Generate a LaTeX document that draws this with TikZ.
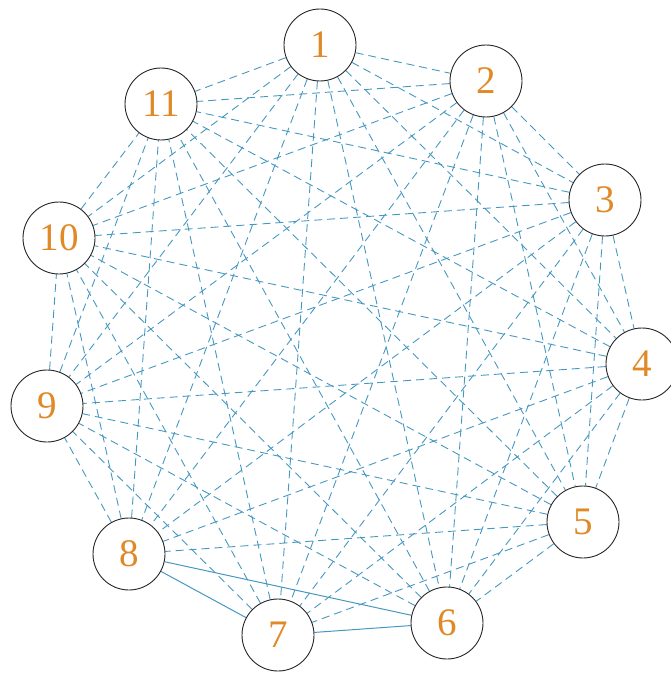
\documentclass[tikz,border=0pt]{standalone}
\usepackage{fontspec}
\setmainfont{Liberation Serif}
\usetikzlibrary{backgrounds}
\definecolor{edgeblue}{RGB}{70,152,192}
\definecolor{numorange}{RGB}{224,137,38}
\tikzset{
  vtx/.style={circle,draw=black!85,line width=0.9pt,fill=white,minimum size=72pt,inner sep=0pt,
    text=numorange,font=\fontsize{39}{39}\selectfont},
  dedge/.style={draw=edgeblue,line width=0.9pt,dash pattern=on 8pt off 5pt},
  sedge/.style={draw=edgeblue,line width=1pt}
}
\begin{document}
\begin{tikzpicture}[x=1pt,y=-1pt]
\useasboundingbox (0,0) rectangle (670,677);
\node[vtx] (n1) at (320,45) {1};
\node[vtx] (n2) at (486,81) {2};
\node[vtx] (n3) at (605,200) {3};
\node[vtx] (n4) at (642,364) {4};
\node[vtx] (n5) at (583,522) {5};
\node[vtx] (n6) at (447,623) {6};
\node[vtx] (n7) at (278,635) {7};
\node[vtx] (n8) at (129,554) {8};
\node[vtx] (n9) at (47,406) {9};
\node[vtx] (n10) at (59,238) {10};
\node[vtx] (n11) at (161,104) {11};
\begin{scope}[on background layer]
\foreach \i in {1,...,11}{
  \foreach \j in {1,...,11}{
    \ifnum\i<\j
      \pgfmathtruncatemacro{\s}{(\i>5)*(\i<9)*(\j>5)*(\j<9)}
      \ifnum\s=0
        \draw[dedge] (n\i) -- (n\j);
      \fi
    \fi
  }
}
\draw[sedge] (n8) -- (n7);
\draw[sedge] (n8) -- (n6);
\draw[sedge] (n7) -- (n6);
\end{scope}
\end{tikzpicture}
\end{document}
